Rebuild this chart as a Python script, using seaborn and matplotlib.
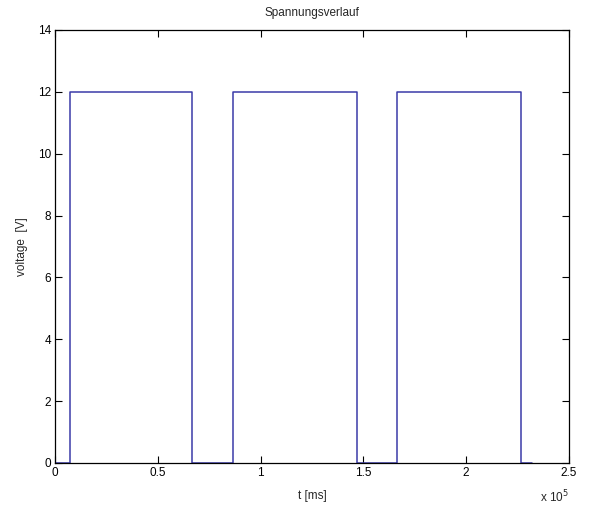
import matplotlib
matplotlib.use("Agg")
import matplotlib.pyplot as plt
import seaborn as sns
import pandas as pd
from matplotlib.ticker import FuncFormatter

# data (time in ms, voltage in V), step signal
time_ms = [0, 7300, 66500, 86700, 147000, 166200, 226500, 232000]
voltage = [0, 12, 0, 12, 0, 12, 0, 0]
x_ticks = [0, 50000, 100000, 150000, 200000, 250000]
y_ticks = [0, 2, 4, 6, 8, 10, 12, 14]

df = pd.DataFrame({"t": time_ms, "v": voltage})

sns.set_theme(style="white")
plt.rcParams['font.family'] = ['Liberation Sans', 'DejaVu Sans']

fig = plt.figure(figsize=(5.92, 5.08), dpi=100)
ax = fig.add_axes([0.0929, 0.0886, 0.8682, 0.8524])

sns.lineplot(data=df, x="t", y="v", ax=ax, drawstyle="steps-post",
             color="#3a3aa8", linewidth=1.1, estimator=None, sort=False)

ax.set_xlim(0, 250000)
ax.set_ylim(0, 14)
ax.set_xticks(x_ticks)
ax.set_yticks(y_ticks)
ax.xaxis.set_major_formatter(FuncFormatter(lambda v, p: f"{v/1e5:g}"))
ax.yaxis.set_major_formatter(FuncFormatter(lambda v, p: f"{v:g}"))

for s in ax.spines.values():
    s.set_color("black")
    s.set_linewidth(0.9)
    s.set_visible(True)

ax.tick_params(axis="both", which="both", direction="in", length=5, width=0.8,
               top=True, right=True, bottom=True, left=True,
               labelsize=8.5, colors="black", pad=3)

ax.set_title("Spannungsverlauf", fontsize=8.5, pad=10)
ax.set_xlabel("t [ms]", fontsize=8.5, labelpad=8)
ax.set_ylabel("voltage  [V]", fontsize=8.5, labelpad=7)
ax.text(1.0, -0.06, r"x 10$^{5}$", transform=ax.transAxes, fontsize=8.5,
        ha="right", va="top")

fig.patch.set_facecolor("white")
ax.set_facecolor("white")
fig.savefig("out.png", dpi=100, facecolor="white")
